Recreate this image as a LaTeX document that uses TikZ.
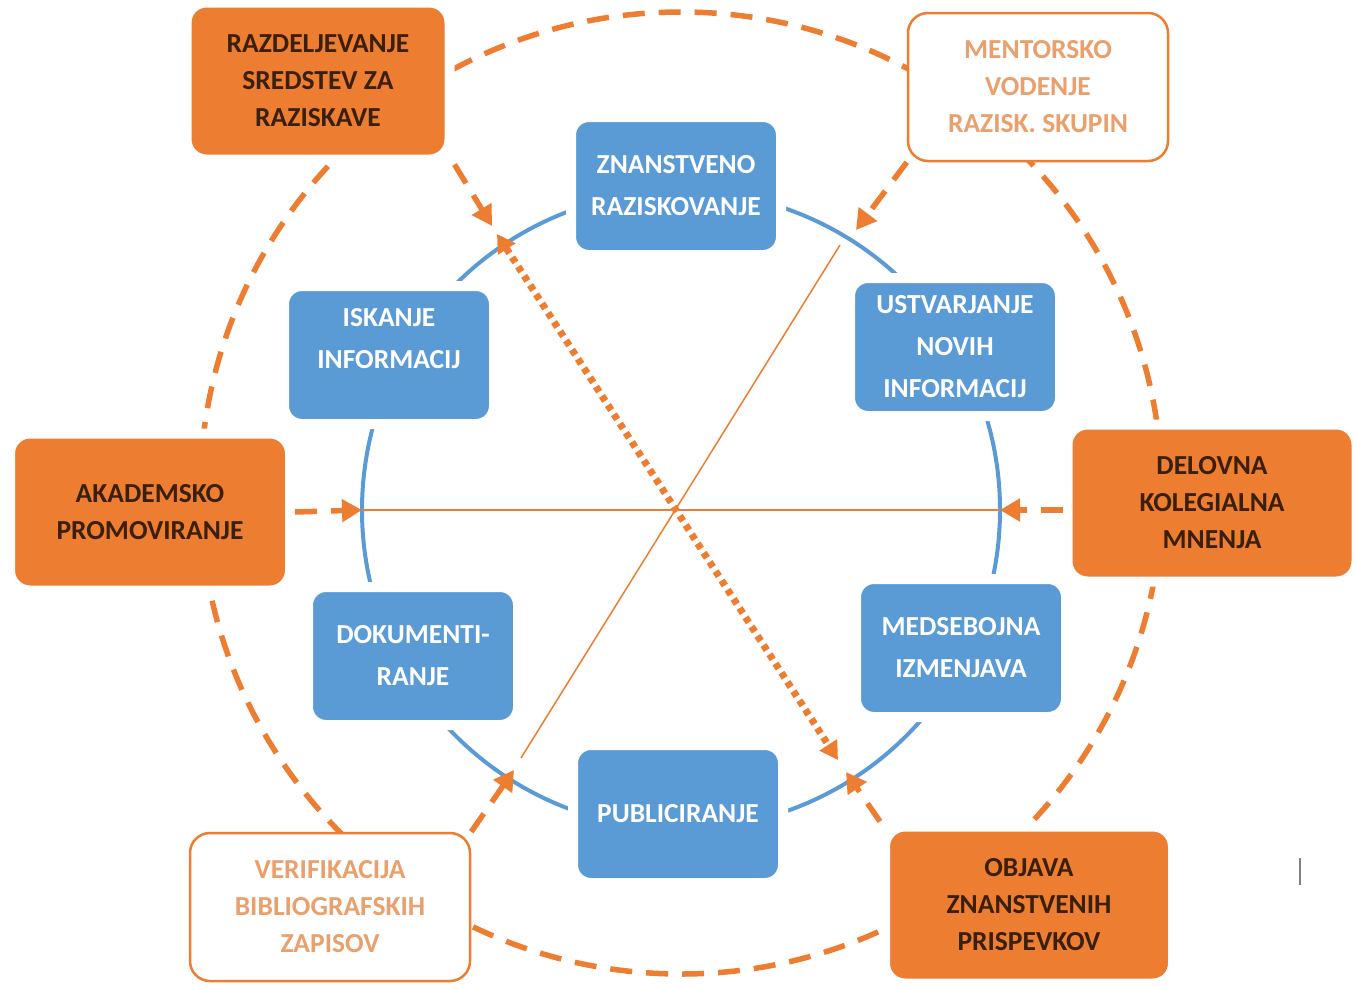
\documentclass[tikz,border=0pt]{standalone}
\usepackage{fontspec}
\setmainfont{Carlito}
\usetikzlibrary{arrows.meta}
\definecolor{accorange}{HTML}{ED7D31}
\definecolor{accblue}{HTML}{5B9BD5}
\definecolor{darktext}{HTML}{3A1F0A}
\definecolor{lightorange}{HTML}{E9A06C}
\tikzset{
  blubox/.style={rectangle, rounded corners=18pt, fill=accblue, draw=white, line width=10pt,
    minimum width=210pt, minimum height=138pt, align=center, text=white,
    font=\fontsize{27.5}{42}\selectfont\bfseries},
  orgbox/.style={rectangle, rounded corners=20pt, fill=accorange, draw=white, line width=10pt,
    minimum width=#1, minimum height=157pt, align=center, text=darktext,
    font=\fontsize{27.5}{37}\selectfont\bfseries},
  orgbox/.default=263pt,
  wbox/.style={rectangle, rounded corners=20pt, fill=white, draw=accorange, line width=2.5pt,
    minimum width=#1, minimum height=148pt, align=center, text=lightorange,
    font=\fontsize{27.5}{37}\selectfont\bfseries},
  wbox/.default=260pt,
  dashline/.style={accorange, line width=5.5pt, dash pattern=on 22pt off 14pt},
  dasharrow/.style={dashline, -{Triangle[length=20pt,width=22pt]}},
  dotarrow/.style={accorange, line width=7pt, dash pattern=on 6pt off 5pt,
    {Triangle[length=18pt,width=20pt]}-{Triangle[length=18pt,width=20pt]}},
  thinline/.style={accorange, line width=1.5pt},
}
\begin{document}
\begin{tikzpicture}[x=1pt,y=-1pt]
\useasboundingbox (0,0) rectangle (1356,985);

% outer and inner ring
\draw[dashline] (681,493) circle [radius=481pt];
\draw[accblue, line width=4pt] (681,510) circle [radius=319pt];

% points on the inner ring
\coordinate (cl) at (362,510);
\coordinate (cr) at (1000,510);
\coordinate (d1) at (840,245);
\coordinate (d2) at (521,758);
\coordinate (tla) at (492,226);
\coordinate (tlb) at (497,234);
\coordinate (tr) at (856,230);
\coordinate (bl) at (514,770);
\coordinate (bra) at (838,760);
\coordinate (brb) at (846,772);

\draw[thinline] (cl) -- (cr);
\draw[thinline] (d1) -- (d2);
\draw[dotarrow] (tlb) -- (bra);

% blue boxes on the ring
\node[blubox] (zna) at (676,186) {ZNANSTVENO\\RAZISKOVANJE};
\node[blubox, text depth=34pt] (isk) at (389,355) {ISKANJE\\INFORMACIJ};
\node[blubox] (ust) at (955,347) {USTVARJANJE\\NOVIH\\INFORMACIJ};
\node[blubox] (dok) at (413,656) {DOKUMENTI-\\RANJE};
\node[blubox] (med) at (961,648) {MEDSEBOJNA\\IZMENJAVA};
\node[blubox] (pub) at (678,814) {PUBLICIRANJE};

% outer boxes
\node[orgbox=263pt] (raz) at (318,81) {RAZDELJEVANJE\\SREDSTEV ZA\\RAZISKAVE};
\node[orgbox=280pt] (aka) at (150,512) {AKADEMSKO\\PROMOVIRANJE};
\node[orgbox=289pt] (del) at (1212,503) {DELOVNA\\KOLEGIALNA\\MNENJA};
\node[orgbox=288pt] (obj) at (1029,905) {OBJAVA\\ZNANSTVENIH\\PRISPEVKOV};
\node[wbox=260pt] (ment) at (1038,87) {MENTORSKO\\VODENJE\\RAZISK. SKUPIN};
\node[wbox=280pt] (ver) at (330,907) {VERIFIKACIJA\\BIBLIOGRAFSKIH\\ZAPISOV};

% arrows from outer boxes
\draw[dasharrow] (raz.south east) -- (tla);
\draw[dasharrow] (ment.south west) -- (tr);
\draw[dasharrow] (aka.east) -- (cl);
\draw[dasharrow] (del.west |- cr) -- (cr);
\draw[dasharrow] (ver.north east) -- (bl);
\draw[dasharrow] (obj.north west) -- (brb);

\draw[gray, line width=2pt] (1300,858) -- (1300,885);
\end{tikzpicture}
\end{document}
